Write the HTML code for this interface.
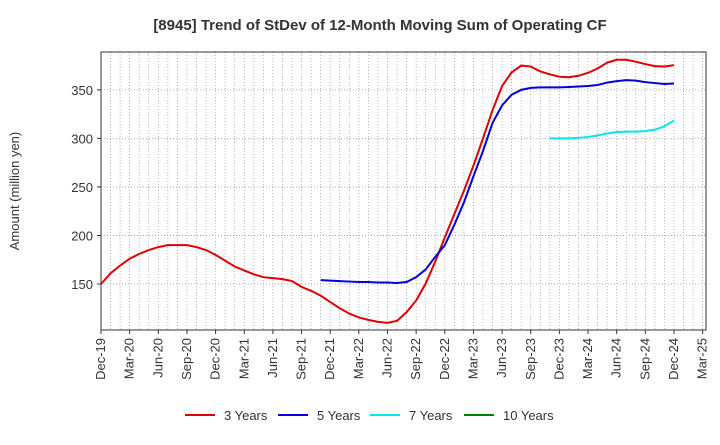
<!DOCTYPE html>
<html><head><meta charset="utf-8"><style>
body{margin:0;background:#fff;font-family:"Liberation Sans",Arial,sans-serif}
</style></head><body>
<svg id="chart" width="720" height="440" xmlns="http://www.w3.org/2000/svg">
<text x="380" y="30" text-anchor="middle" font-size="15" font-weight="bold" fill="#333">[8945]  Trend of StDev of 12-Month Moving Sum of Operating CF</text>
<text transform="translate(19,191) rotate(-90)" text-anchor="middle" font-size="13" fill="#333">Amount (million yen)</text>
<g id="grid"></g><g id="axes"></g><g id="series"></g><g id="legend"></g>
</svg>
<script>
const xLabels=["Dec-19","Mar-20","Jun-20","Sep-20","Dec-20","Mar-21","Jun-21","Sep-21","Dec-21","Mar-22","Jun-22","Sep-22","Dec-22","Mar-23","Jun-23","Sep-23","Dec-23","Mar-24","Jun-24","Sep-24","Dec-24","Mar-25"];
const yTicks=[150,200,250,300,350];
const seriesNames=["3 Years","5 Years","7 Years","10 Years"];
const seriesColors=["#e00000","#0000dd","#00e5ee","#008000"];
const start3=0;
const values3=[150,161,169,176,181,185,188,190,190,190,188,185,180,174,168,164,160,157,156,155,153,147,143,138,131.5,125,119.5,115.5,113,111,110,112,121,133,150.5,173,198,222,246,272,300,329,354,368,375,374,369,366,363.5,363,364.5,367.5,372,378,381,381,379,376.5,374.5,374,375.5];
const start5=23;
const values5=[154,153.5,153,152.5,152,152,151.5,151.5,151,152,157,165,178,190,211,234,261,287,316,334,345,350,352,352.5,352.5,352.5,353,353.5,354,355,357.5,359,360,359.5,358,357,356,356.5];
const start7=47;
const values7=[300,300,300,300.5,301.5,303,305,306.5,307,307,307.5,309,312.5,318.5];
const start10=0;
const values10=[];

const L=101,R=706,T=52,B=330,step=9.55,vMin=102.6,vMax=389;
const X=m=>L+step*m;
const Y=v=>B-(v-vMin)/(vMax-vMin)*(B-T);
const NS="http://www.w3.org/2000/svg";
function mk(tag,parent,attrs){const e=document.createElementNS(NS,tag);for(const k in attrs)e.setAttribute(k,attrs[k]);document.getElementById(parent).appendChild(e);return e;}
for(let m=1;X(m)<R-1;m++){const e=mk("line","grid",{x1:X(m),x2:X(m),y1:T,y2:B,stroke:"#999","stroke-width":0.7,"stroke-dasharray":"1,2"});

}
yTicks.forEach(v=>{const e=mk("line","grid",{x1:L,x2:R,y1:Y(v),y2:Y(v),stroke:"#999","stroke-width":0.8,"stroke-dasharray":"1,2"});

});
const fr=mk("rect","axes",{x:L,y:T,width:R-L,height:B-T,fill:"none",stroke:"#333","stroke-width":1});


yTicks.forEach(v=>{const t=mk("text","axes",{x:L-8,y:Y(v)+5,"text-anchor":"end","font-size":13,fill:"#333"});t.textContent=v;


mk("line","axes",{x1:L-4,x2:L,y1:Y(v),y2:Y(v),stroke:"#333"});});
xLabels.forEach((s,i)=>{const x=X(i*3);const t=mk("text","axes",{transform:`translate(${x+4},${B+8}) rotate(-90)`,"text-anchor":"end","font-size":13,fill:"#333"});t.textContent=s;


mk("line","axes",{x1:x,x2:x,y1:B,y2:B+4,stroke:"#333"});});
[[start3,values3],[start5,values5],[start7,values7],[start10,values10]].forEach(([s,vals],i)=>{
if(!vals.length)return;
const p=mk("polyline","series",{points:vals.map((v,j)=>X(s+j)+","+Y(v)).join(" "),fill:"none",stroke:seriesColors[i],"stroke-width":2});

});
const lx=[185,278,370,464];
seriesNames.forEach((n,i)=>{const l=mk("line","legend",{x1:lx[i],x2:lx[i]+30,y1:415,y2:415,stroke:seriesColors[i],"stroke-width":2});


const t=mk("text","legend",{x:lx[i]+39,y:420,"font-size":13,fill:"#333"});t.textContent=n;

});
</script>
</body></html>
